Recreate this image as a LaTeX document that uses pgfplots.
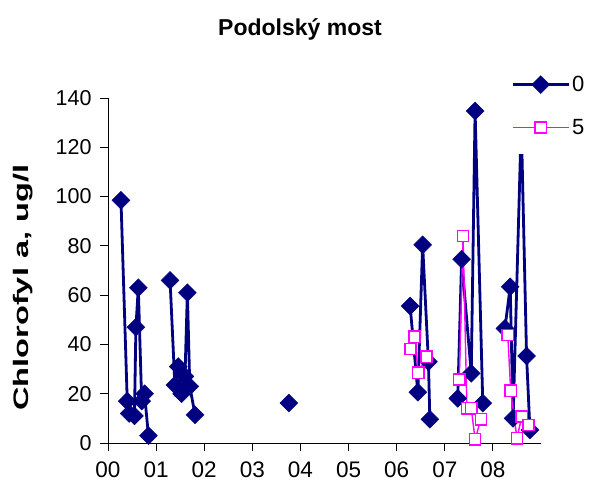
\documentclass[border=0pt]{standalone}
\usepackage{fontspec}
\setmainfont{Liberation Sans}
\usepackage{graphicx}
\usepackage{pgfplots}
\pgfplotsset{compat=1.18}
\definecolor{navyc}{RGB}{0,0,128}
\definecolor{magc}{RGB}{255,0,255}
\begin{document}
\begin{tikzpicture}
\begin{axis}[
  scale only axis, width=433pt, height=345pt,
  xmin=0, xmax=9, ymin=0, ymax=140,
  axis lines*=left,
  axis line style={line width=0.8pt, black},
  xtick={0,1,2,3,4,5,6,7,8},
  xticklabels={00,01,02,03,04,05,06,07,08},
  ytick={0,20,40,60,80,100,120,140},
  tick align=outside, major tick length=8pt,
  tick style={line width=0.8pt, black},
  /pgf/number format/assume math mode=true,
  xticklabel style={font=\fontsize{22.5}{26}\selectfont, yshift=-7pt},
  yticklabel style={font=\fontsize{21.5}{25}\selectfont, xshift=-5pt},
  clip=false,
  unbounded coords=jump,
  title={\bfseries Podolský most},
  title style={font=\fontsize{23}{27}\selectfont, at={(0.4434,1.18)}, anchor=center},
  ylabel={\scalebox{1.55}[1]{\bfseries Chlorofyl a, ug/l}},
  ylabel style={font=\fontsize{21}{25}\selectfont, at={(-0.1836,0.45)}, anchor=base},
  legend style={draw=none, fill=white, at={(0.924,1.116)}, anchor=north west,
    font=\fontsize{22}{26}\selectfont, row sep=22pt, inner xsep=3pt, inner ysep=16pt},
  legend cell align=left,
  legend image code/.code={\draw[mark repeat=2,mark phase=2,#1] plot coordinates {(0pt,0pt) (28pt,0pt) (56pt,0pt)};},
]
\addplot[color=navyc, line width=2.8pt, mark=square*, mark size=6.3pt,
  mark options={rotate=45, solid, fill=navyc, line width=0.5pt}] coordinates {
(0.27,98.5) (0.40,17) (0.44,12) (0.55,11) (0.58,47) (0.63,63) (0.70,17) (0.76,20) (0.84,3)
(1.0,nan)
(1.29,66) (1.39,23.5) (1.46,31) (1.53,20) (1.60,27) (1.65,61) (1.70,23) (1.81,11.4)
(2.5,nan)
(3.76,16.2)
(5.0,nan)
(6.28,55.6) (6.44,20.6) (6.54,80.4) (6.66,33) (6.69,9.6)
(7.0,nan)
(7.27,18.1) (7.35,74.6) (7.55,28.3) (7.63,134.7) (7.79,16.2)
(8.0,nan)
(8.25,46.5) (8.36,63.4) (8.42,10) (8.59,130) (8.70,35.3) (8.77,5.3)
};
\addlegendentry{0}
\addplot[color=magc, line width=1.4pt, mark=square*, mark size=5.6pt,
  mark options={solid, fill=white, draw=magc, line width=1.5pt}] coordinates {
(6.29,38.1) (6.37,43.1) (6.45,28.5) (6.62,35)
(7.0,nan)
(7.30,25.8) (7.38,84) (7.46,14.1) (7.55,14.1) (7.63,1.5) (7.75,9.6)
(8.0,nan)
(8.31,43.8) (8.37,21.2) (8.50,1.9) (8.60,10.7) (8.74,7.3)
};
\addlegendentry{5}
\coordinate (O) at (rel axis cs:0,0);
\end{axis}
\pgfresetboundingbox
\path (O) ++(-108pt,-52pt) rectangle ++(598pt,495pt);
\end{tikzpicture}
\end{document}
